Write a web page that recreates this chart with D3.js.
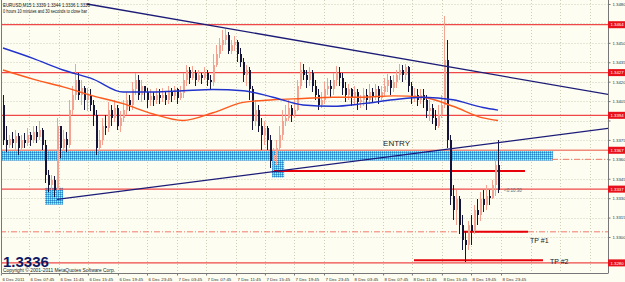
<!DOCTYPE html>
<html>
<head>
<meta charset="utf-8">
<script src="https://cdn.jsdelivr.net/npm/d3@7"></script>
<style>
html, body { margin: 0; padding: 0; background: #fdfdf1; }
svg { display: block; }
text { font-family: "Liberation Sans", Arial, sans-serif; }
</style>
</head>
<body>
<div id="chart"></div>
<script>
//---->DATA (EURUSD M15, 6-8 Dec 2011)<------------------------//
const firstOpen = 1.3402;

const closes = [
    1.3375,1.3371,1.3376,1.3373,1.3378,1.3369,1.3375,1.3373,1.3379,1.3375,
    1.3381,1.3377,1.3383,1.3371,1.3348,1.3340,1.3344,1.3336,1.3386,1.3369,
    1.3376,1.3371,1.3398,1.3410,1.3421,1.3410,1.3415,1.3406,1.3410,1.3402,
    1.3394,1.3369,1.3375,1.3386,1.3384,1.3398,1.3392,1.3400,1.3386,1.3392,
    1.3398,1.3406,1.3402,1.3414,1.3421,1.3410,1.3417,1.3412,1.3406,1.3409,
    1.3406,1.3410,1.3407,1.3410,1.3406,1.3412,1.3409,1.3414,1.3407,1.3411,
    1.3421,1.3429,1.3423,1.3427,1.3421,1.3425,1.3423,1.3427,1.3421,1.3420,
    1.3433,1.3441,1.3448,1.3452,1.3456,1.3444,1.3448,1.3451,1.3441,1.3435,
    1.3425,1.3429,1.3414,1.3390,1.3398,1.3386,1.3379,1.3384,1.3375,1.3359,
    1.3363,1.3369,1.3379,1.3390,1.3392,1.3400,1.3394,1.3398,1.3417,1.3429,
    1.3425,1.3421,1.3427,1.3417,1.3410,1.3402,1.3406,1.3414,1.3417,1.3414,
    1.3421,1.3427,1.3423,1.3415,1.3410,1.3414,1.3407,1.3412,1.3404,1.3406,
    1.3410,1.3406,1.3412,1.3409,1.3414,1.3407,1.3412,1.3417,1.3421,1.3415,
    1.3420,1.3425,1.3429,1.3425,1.3431,1.3417,1.3407,1.3410,1.3406,1.3410,
    1.3406,1.3397,1.3400,1.3392,1.3386,1.3394,1.3402,1.3437,1.3375,1.3332,
    1.3321,1.3329,1.3309,1.3298,1.3294,1.3309,1.3305,1.3321,1.3317,1.3329,
    1.3325,1.3332,1.3330,1.3340,1.3356,1.3336
];

const highs = [
    1.3410,1.3386,1.3379,1.3381,1.3383,1.3380,1.3379,1.3380,1.3384,1.3381,
    1.3386,1.3386,1.3390,1.3384,1.3375,1.3352,1.3348,1.3347,1.3392,1.3384,
    1.3383,1.3381,1.3406,1.3417,1.3434,1.3427,1.3421,1.3417,1.3415,1.3414,
    1.3406,1.3398,1.3383,1.3392,1.3394,1.3404,1.3402,1.3406,1.3402,1.3397,
    1.3406,1.3412,1.3410,1.3420,1.3427,1.3425,1.3421,1.3417,1.3415,1.3414,
    1.3412,1.3415,1.3414,1.3415,1.3412,1.3417,1.3415,1.3417,1.3415,1.3417,
    1.3427,1.3433,1.3431,1.3432,1.3429,1.3429,1.3427,1.3431,1.3429,1.3425,
    1.3441,1.3448,1.3454,1.3460,1.3461,1.3458,1.3452,1.3455,1.3452,1.3446,
    1.3438,1.3433,1.3431,1.3417,1.3406,1.3402,1.3392,1.3390,1.3386,1.3379,
    1.3369,1.3375,1.3386,1.3398,1.3402,1.3406,1.3402,1.3406,1.3421,1.3435,
    1.3434,1.3429,1.3431,1.3429,1.3421,1.3414,1.3412,1.3420,1.3423,1.3421,
    1.3427,1.3432,1.3431,1.3427,1.3420,1.3418,1.3415,1.3417,1.3414,1.3410,
    1.3415,1.3414,1.3418,1.3415,1.3418,1.3417,1.3417,1.3423,1.3426,1.3424,
    1.3425,1.3429,1.3434,1.3433,1.3434,1.3432,1.3420,1.3415,1.3414,1.3414,
    1.3414,1.3410,1.3406,1.3403,1.3398,1.3402,1.3410,1.3471,1.3452,1.3379,
    1.3340,1.3336,1.3332,1.3317,1.3305,1.3312,1.3317,1.3325,1.3329,1.3335,
    1.3336,1.3340,1.3336,1.3344,1.3361,1.3375
];

const lows = [
    1.3371,1.3366,1.3369,1.3369,1.3367,1.3363,1.3366,1.3369,1.3370,1.3370,
    1.3373,1.3373,1.3375,1.3367,1.3342,1.3335,1.3332,1.3331,1.3332,1.3361,
    1.3366,1.3366,1.3369,1.3394,1.3406,1.3406,1.3402,1.3398,1.3397,1.3397,
    1.3386,1.3363,1.3363,1.3371,1.3379,1.3381,1.3386,1.3389,1.3383,1.3381,
    1.3389,1.3394,1.3397,1.3398,1.3410,1.3406,1.3404,1.3406,1.3400,1.3401,
    1.3401,1.3403,1.3403,1.3404,1.3402,1.3403,1.3404,1.3406,1.3403,1.3406,
    1.3407,1.3417,1.3418,1.3421,1.3417,1.3420,1.3418,1.3421,1.3417,1.3414,
    1.3417,1.3431,1.3438,1.3444,1.3448,1.3441,1.3441,1.3444,1.3435,1.3431,
    1.3420,1.3417,1.3406,1.3383,1.3386,1.3381,1.3367,1.3371,1.3367,1.3353,
    1.3349,1.3356,1.3367,1.3375,1.3386,1.3390,1.3389,1.3392,1.3397,1.3414,
    1.3421,1.3415,1.3417,1.3412,1.3406,1.3398,1.3400,1.3403,1.3410,1.3407,
    1.3410,1.3417,1.3417,1.3410,1.3404,1.3406,1.3401,1.3403,1.3398,1.3400,
    1.3401,1.3398,1.3403,1.3404,1.3406,1.3403,1.3406,1.3409,1.3412,1.3410,
    1.3412,1.3415,1.3421,1.3420,1.3421,1.3412,1.3403,1.3404,1.3401,1.3403,
    1.3400,1.3392,1.3390,1.3387,1.3383,1.3384,1.3392,1.3400,1.3369,1.3325,
    1.3313,1.3309,1.3302,1.3290,1.3281,1.3290,1.3294,1.3302,1.3309,1.3312,
    1.3319,1.3321,1.3325,1.3329,1.3332,1.3334
];

// moving averages, read every 10 bars
const maBars = [0,10,20,30,40,50,60,70,80,90,100,110,120,130,140,150,160,165];
const maBlue = [1.3446,1.3438,1.3429,1.3422,1.3412,1.3412,1.3413,1.3414,1.3413,1.3408,1.3402,1.3401,1.3403,1.3406,1.3408,1.3406,1.3400,1.3398];
const maOrange = [1.3429,1.3422,1.3416,1.3409,1.3403,1.3395,1.3390,1.3396,1.3404,1.3406,1.3407,1.3408,1.3408,1.3409,1.3408,1.3401,1.3392,1.3390];

// price axis
const tickPrices = [1.3300,1.3315,1.3330,1.3345,1.3360,1.3375,1.3390,1.3405,1.3420,1.3435,1.3450,1.3465,1.3480];

// time axis
const timeLabels = ['6 Dec 2011','6 Dec 07:45','6 Dec 11:45','6 Dec 15:45','6 Dec 19:45','6 Dec 23:45',
    '7 Dec 03:45','7 Dec 07:45','7 Dec 11:45','7 Dec 15:45','7 Dec 19:45','7 Dec 23:45',
    '8 Dec 03:45','8 Dec 07:45','8 Dec 11:45','8 Dec 15:45','8 Dec 19:45','8 Dec 23:45'];
const labelBars = [-0.7,8.7,18.7,28.3,38.3,48,58,67.7,77.7,87.3,97,107,116.7,126.7,136.3,146.3,156,166];
const futureGridBars = [176,185.7,195.7];

// drawn objects
const levelLines = [1.3464,1.3427,1.3394,1.3367,1.3337,1.3280];
const dashDotLevels = [{ p: 1.3360, from: 183, to: 202 }, { p: 1.3304, from: -1, to: 202 }];
const targetSegments = [
    { p: 1.3351, from: 90, to: 174 },
    { p: 1.3304, from: 153, to: 175 },
    { p: 1.3282, from: 137, to: 180 }
];
const zones = [
    { from: -0.5, to: 183.3, top: 1.3367, bottom: 1.3359 },
    { from: 14, to: 20, top: 1.3338, bottom: 1.3325 },
    { from: 89.7, to: 93.7, top: 1.3362, bottom: 1.3346 }
];
const trendLines = [
    [{ bar: 28, p: 1.3480 }, { bar: 202, p: 1.3410 }],
    [{ bar: 18, p: 1.3329 }, { bar: 202, p: 1.3384 }]
];
const notes = [
    { text: 'ENTRY', bar: 126.7, p: 1.3370, size: 8 },
    { text: 'TP #1', bar: 175.7, p: 1.3295, size: 7 },
    { text: 'TP #2', bar: 182.3, p: 1.3279, size: 7 }
];

//---->CHART<-----//
const outerW = 625, outerH = 282;
const plot = { left: 1.5, right: 608, top: 0, bottom: 273 };

const svg = d3.select('#chart').append('svg')
    .attr('width', outerW)
    .attr('height', outerH);

const x = d3.scaleLinear().domain([-1, 202]).range([0, 609]);
const y = d3.scaleLinear().domain([1.3300, 1.3480]).range([237, 4]);

const defs = svg.append('defs');
defs.append('clipPath').attr('id', 'plotClip')
    .append('rect')
    .attr('x', plot.left).attr('y', plot.top)
    .attr('width', plot.right - plot.left).attr('height', plot.bottom - plot.top);

const pat = defs.append('pattern').attr('id', 'zoneFill')
    .attr('width', 2).attr('height', 2)
    .attr('patternUnits', 'userSpaceOnUse');
pat.append('rect').attr('width', 2).attr('height', 2).attr('fill', '#45b2e8');
pat.append('rect').attr('width', 1).attr('height', 1).attr('fill', '#2a84c6');
pat.append('rect').attr('x', 1).attr('y', 1).attr('width', 1).attr('height', 1).attr('fill', '#bfe6f8');

svg.append('rect')
    .attr('width', outerW).attr('height', outerH)
    .attr('fill', '#fdfdf1');

const g = svg.append('g').attr('clip-path', 'url(#plotClip)');

// grid
g.selectAll('.hgrid').data(tickPrices).enter().append('line')
    .attr('x1', plot.left).attr('x2', plot.right)
    .attr('y1', d => Math.round(y(d)) + 0.5).attr('y2', d => Math.round(y(d)) + 0.5)
    .attr('stroke', '#cfcfb6').attr('stroke-dasharray', '1,2');

g.selectAll('.vgrid').data(labelBars.concat(futureGridBars)).enter().append('line')
    .attr('x1', d => Math.round(x(d)) + 0.5).attr('x2', d => Math.round(x(d)) + 0.5)
    .attr('y1', plot.top).attr('y2', plot.bottom)
    .attr('stroke', '#cfcfb6').attr('stroke-dasharray', '1,2');

// zones
g.selectAll('.zone').data(zones).enter().append('rect')
    .attr('x', d => x(d.from)).attr('width', d => x(d.to) - x(d.from))
    .attr('y', d => y(d.top)).attr('height', d => y(d.bottom) - y(d.top))
    .attr('fill', 'url(#zoneFill)');

// horizontal levels
g.selectAll('.level').data(levelLines).enter().append('line')
    .attr('x1', plot.left).attr('x2', plot.right)
    .attr('y1', d => y(d)).attr('y2', d => y(d))
    .attr('stroke', d => d === 1.3367 ? '#f28a7a' : '#f04848')
    .attr('stroke-width', 1.3);

g.selectAll('.dashdot').data(dashDotLevels).enter().append('line')
    .attr('x1', d => x(d.from)).attr('x2', d => x(d.to))
    .attr('y1', d => y(d.p)).attr('y2', d => y(d.p))
    .attr('stroke', '#f07a6a').attr('stroke-width', 1)
    .attr('stroke-dasharray', '6,2,1,2');

g.selectAll('.target').data(targetSegments).enter().append('line')
    .attr('x1', d => x(d.from)).attr('x2', d => x(d.to))
    .attr('y1', d => y(d.p)).attr('y2', d => y(d.p))
    .attr('stroke', '#e8000a').attr('stroke-width', 2);

// candles
const bars = closes.map((c, i) => {
    const o = i === 0 ? firstOpen : closes[i - 1];
    return { i, o, c, h: Math.max(highs[i], o, c), l: Math.min(lows[i], o, c) };
});
const upCol = '#f4a292', downCol = '#15153a';

const candle = g.selectAll('.bar').data(bars).enter().append('g')
    .attr('class', 'bar')
    .attr('shape-rendering', 'crispEdges');

candle.append('line')
    .attr('x1', d => Math.round(x(d.i)) + 0.5).attr('x2', d => Math.round(x(d.i)) + 0.5)
    .attr('y1', d => y(d.h)).attr('y2', d => y(d.l))
    .attr('stroke', d => d.c >= d.o ? upCol : downCol);

candle.append('rect')
    .attr('x', d => Math.round(x(d.i)))
    .attr('width', 2)
    .attr('y', d => y(Math.max(d.o, d.c)))
    .attr('height', d => Math.max(1, Math.abs(y(d.o) - y(d.c))))
    .attr('fill', d => d.c >= d.o ? upCol : downCol);

// moving averages
const maLine = vals => d3.line()
    .x((d, k) => x(maBars[k]))
    .y(d => y(d))
    .curve(d3.curveMonotoneX)(vals);

g.append('path').attr('d', maLine(maOrange))
    .attr('fill', 'none').attr('stroke', '#ff5a1e').attr('stroke-width', 1.4);
g.append('path').attr('d', maLine(maBlue))
    .attr('fill', 'none').attr('stroke', '#2233cc').attr('stroke-width', 1.4);

// trend lines
g.selectAll('.trend').data(trendLines).enter().append('line')
    .attr('x1', d => x(d[0].bar)).attr('y1', d => y(d[0].p))
    .attr('x2', d => x(d[1].bar)).attr('y2', d => y(d[1].p))
    .attr('stroke', '#1c1c78').attr('stroke-width', 1.3);

// notes
g.selectAll('.note').data(notes).enter().append('text')
    .attr('x', d => x(d.bar)).attr('y', d => y(d.p))
    .attr('font-size', d => d.size)
    .attr('fill', '#1a1a1a')
    .text(d => d.text);

g.append('text')
    .attr('x', x(167)).attr('y', y(1.3335))
    .attr('font-size', 4.5).attr('fill', '#666')
    .text('<0:10:30');

// frame
svg.append('line').attr('x1', plot.left).attr('x2', plot.left).attr('y1', 0).attr('y2', plot.bottom)
    .attr('stroke', '#777');

// price axis (tick labels hidden where a level tag sits on top, as in the terminal)
const yAxis = svg.append('g')
    .attr('transform', 'translate(' + (plot.right + 0.5) + ',0)')
    .call(d3.axisRight(y)
        .tickValues(tickPrices)
        .tickSize(2)
        .tickPadding(2)
        .tickFormat(d3.format('.4f')));
yAxis.select('.domain').attr('stroke', '#777').attr('d', 'M0,0V' + plot.bottom);
yAxis.selectAll('.tick line').attr('stroke', '#777');
yAxis.selectAll('text').attr('font-size', 4.3).attr('fill', '#333');
yAxis.selectAll('.tick')
    .filter(d => levelLines.some(p => Math.abs(y(p) - y(d)) < 6))
    .select('text').remove();

// red level labels
const tag = svg.selectAll('.tag').data(levelLines).enter().append('g')
    .attr('transform', d => 'translate(' + plot.right + ',' + y(d) + ')');
tag.append('rect').attr('x', 0).attr('y', -3.5).attr('width', 17).attr('height', 7).attr('fill', '#e8101a');
tag.append('text').attr('x', 2.5).attr('y', 1.7).attr('font-size', 4.3).attr('fill', '#fff')
    .text(d => d3.format('.4f')(d));

// time axis
const xAxis = svg.append('g')
    .attr('transform', 'translate(0,' + (plot.bottom + 0.5) + ')')
    .call(d3.axisBottom(x)
        .tickValues(labelBars)
        .tickSize(2)
        .tickFormat((d, k) => timeLabels[k]));
xAxis.select('.domain').attr('stroke', '#777').attr('d', 'M' + plot.left + ',0H' + (plot.right + 0.5));
xAxis.selectAll('.tick line').attr('stroke', '#777');
xAxis.selectAll('text')
    .attr('text-anchor', 'start')
    .attr('x', 1).attr('y', 7.5).attr('dy', 0)
    .attr('font-size', 4.4).attr('fill', '#333');

// header and footer text
svg.append('text').attr('x', 3).attr('y', 7)
    .attr('font-size', 5).attr('fill', '#111')
    .attr('textLength', 87).attr('lengthAdjust', 'spacingAndGlyphs')
    .text('EURUSD,M15  1.3339 1.3344 1.3336 1.3336');
svg.append('text').attr('x', 3).attr('y', 12.5)
    .attr('font-size', 4.6).attr('fill', '#111')
    .attr('textLength', 84).attr('lengthAdjust', 'spacingAndGlyphs')
    .text('0 hours 10 minutes and 30 seconds to close bar');

svg.append('text').attr('x', 3).attr('y', 266.5)
    .attr('font-size', 15).attr('font-weight', 'bold').attr('fill', '#0e1666')
    .text('1.3336');
svg.append('text').attr('x', 3).attr('y', 272)
    .attr('font-size', 4.5).attr('fill', '#222')
    .attr('textLength', 112).attr('lengthAdjust', 'spacingAndGlyphs')
    .text('Copyright © 2001-2011 MetaQuotes Software Corp.');
</script>
</body>
</html>
